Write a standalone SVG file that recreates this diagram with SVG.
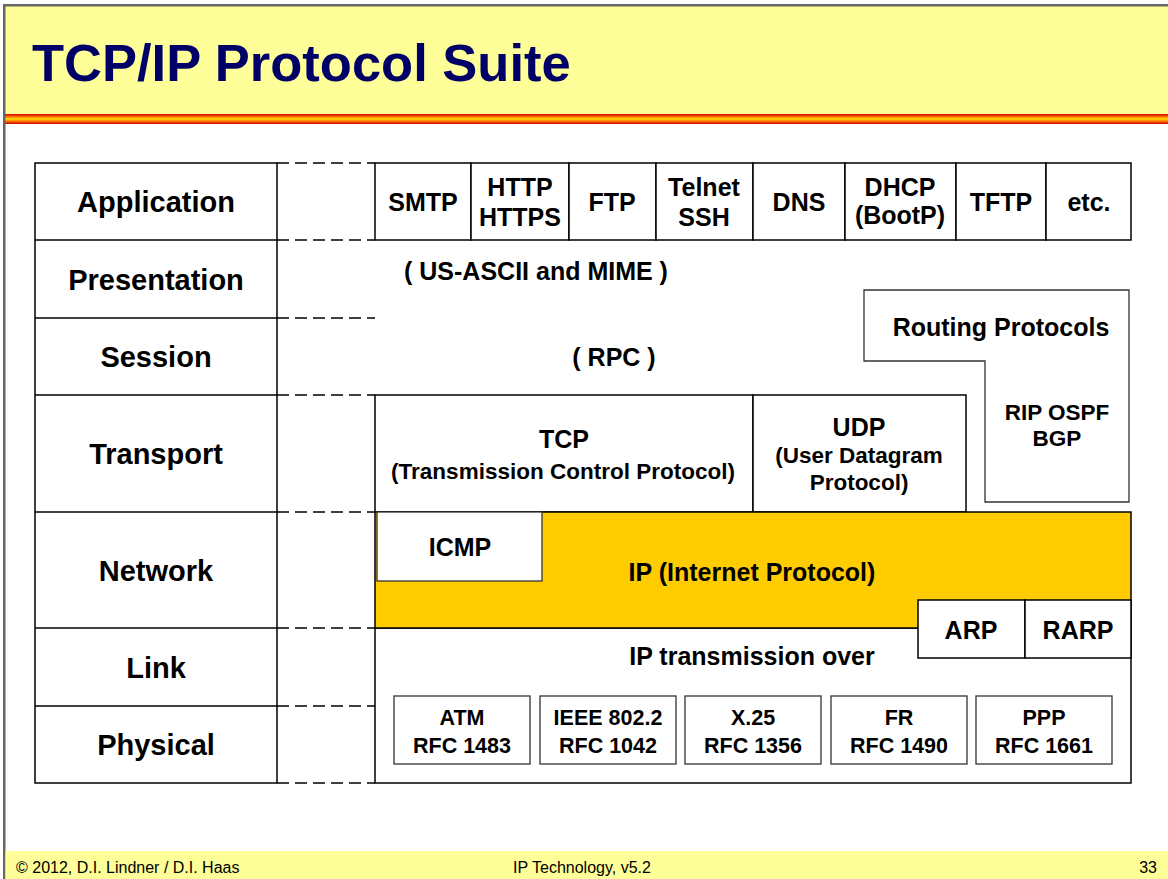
<svg xmlns="http://www.w3.org/2000/svg" width="1168" height="879" viewBox="0 0 1168 879">
<defs>
<linearGradient id="stripe" x1="0" y1="0" x2="0" y2="1">
<stop offset="0" stop-color="#CC0000"/>
<stop offset="0.25" stop-color="#FF6600"/>
<stop offset="0.5" stop-color="#FFDD00"/>
<stop offset="0.75" stop-color="#FF6600"/>
<stop offset="1" stop-color="#CC0000"/>
</linearGradient>
</defs>
<style>
text{font-family:"Liberation Sans",Arial,sans-serif;fill:#000;}
.lbl{font-size:29px;font-weight:bold;text-anchor:middle;}
.b25{font-size:25px;font-weight:bold;text-anchor:middle;}
.b22{font-size:22.5px;font-weight:bold;text-anchor:middle;}
.b21{font-size:21.5px;font-weight:bold;text-anchor:middle;}
.box{fill:#fff;stroke:#000;stroke-width:1.5;}
.gbox{fill:#fff;stroke:#333;stroke-width:1.3;}
.dash{stroke:#000;stroke-width:1.5;stroke-dasharray:12 6;fill:none;}
.line{stroke:#000;stroke-width:1.5;fill:none;}
.foot{font-size:16px;}
</style>
<rect x="0" y="0" width="1168" height="879" fill="#fff"/>
<g id="header">
<rect x="5" y="6" width="1163" height="108" fill="#FFFF99"/>
<rect x="5" y="114" width="1163" height="10" fill="url(#stripe)"/>
<rect x="3" y="4" width="1165" height="2.5" fill="#666"/>
<rect x="3" y="4" width="2.5" height="875" fill="#666"/>
<text x="32" y="81" font-size="52.5" font-weight="bold" style="fill:#000066">TCP/IP Protocol Suite</text>
</g>
<g id="footer">
<rect x="5.5" y="851" width="1162.5" height="28" fill="#FFFF99"/>
<text class="foot" x="16" y="873">© 2012, D.I. Lindner / D.I. Haas</text>
<text class="foot" x="513" y="873">IP Technology, v5.2</text>
<text class="foot" x="1157" y="873" text-anchor="end">33</text>
</g>
<g id="layer-table">
<rect class="box" x="35" y="163" width="242" height="620"/>
<line class="line" x1="35" y1="240" x2="277" y2="240"/>
<line class="line" x1="35" y1="318" x2="277" y2="318"/>
<line class="line" x1="35" y1="395" x2="277" y2="395"/>
<line class="line" x1="35" y1="512" x2="277" y2="512"/>
<line class="line" x1="35" y1="628" x2="277" y2="628"/>
<line class="line" x1="35" y1="706" x2="277" y2="706"/>
<text class="lbl" x="156" y="212">Application</text>
<text class="lbl" x="156" y="290">Presentation</text>
<text class="lbl" x="156" y="367">Session</text>
<text class="lbl" x="156" y="464">Transport</text>
<text class="lbl" x="156" y="581">Network</text>
<text class="lbl" x="156" y="678">Link</text>
<text class="lbl" x="156" y="755">Physical</text>
</g>
<g id="layer-dividers">
<line class="dash" x1="277" y1="163" x2="375" y2="163"/>
<line class="dash" x1="277" y1="240" x2="375" y2="240"/>
<line class="dash" x1="277" y1="318" x2="375" y2="318"/>
<line class="dash" x1="277" y1="395" x2="375" y2="395"/>
<line class="dash" x1="277" y1="512" x2="375" y2="512"/>
<line class="dash" x1="277" y1="628" x2="375" y2="628"/>
<line class="dash" x1="277" y1="706" x2="375" y2="706"/>
<line class="dash" x1="277" y1="783" x2="375" y2="783"/>
</g>
<g id="app-smtp"><rect class="box" x="375" y="163" width="96" height="77"/><text class="b25" x="423" y="211">SMTP</text></g>
<g id="app-http"><rect class="box" x="471" y="163" width="98" height="77"/><text class="b25" x="520" y="196">HTTP</text><text class="b25" x="520" y="226">HTTPS</text></g>
<g id="app-ftp"><rect class="box" x="569" y="163" width="87" height="77"/><text class="b25" x="612" y="211">FTP</text></g>
<g id="app-telnet"><rect class="box" x="656" y="163" width="97" height="77"/><text class="b25" x="704" y="196">Telnet</text><text class="b25" x="704" y="226">SSH</text></g>
<g id="app-dns"><rect class="box" x="753" y="163" width="92" height="77"/><text class="b25" x="799" y="211">DNS</text></g>
<g id="app-dhcp"><rect class="box" x="845" y="163" width="111" height="77"/><text class="b25" x="900" y="196">DHCP</text><text class="b25" x="900" y="224">(BootP)</text></g>
<g id="app-tftp"><rect class="box" x="956" y="163" width="90" height="77"/><text class="b25" x="1001" y="211">TFTP</text></g>
<g id="app-etc"><rect class="box" x="1046" y="163" width="85" height="77"/><text class="b25" x="1089" y="211">etc.</text></g>
<g id="presentation"><text class="b25" x="536" y="280">( US-ASCII and MIME )</text></g>
<g id="session"><text class="b25" x="614" y="366">( RPC )</text></g>
<g id="routing">
<path class="gbox" d="M864 290 H1129 V502 H985 V361 H864 Z"/>
<text class="b25" x="1001" y="336">Routing Protocols</text>
<text class="b22" x="1057" y="420">RIP OSPF</text>
<text class="b22" x="1057" y="446">BGP</text>
</g>
<g id="tcp">
<rect class="box" x="375" y="395" width="378" height="117"/>
<text class="b25" x="564" y="448">TCP</text>
<text class="b22" x="563" y="479">(Transmission Control Protocol)</text>
</g>
<g id="udp">
<rect class="box" x="753" y="395" width="213" height="117"/>
<text class="b25" x="859" y="436">UDP</text>
<text class="b22" x="859" y="463">(User Datagram</text>
<text class="b22" x="859" y="490">Protocol)</text>
</g>
<g id="link">
<rect class="box" x="375" y="628" width="756" height="155"/>
<text class="b25" x="752" y="665">IP transmission over</text>
</g>
<g id="ip">
<rect x="375" y="512" width="756" height="116" fill="#FFCC00" stroke="#000" stroke-width="1.5"/>
<text class="b25" x="752" y="581">IP (Internet Protocol)</text>
</g>
<g id="icmp"><rect class="gbox" x="377" y="512" width="165" height="69"/><text class="b25" x="460" y="556">ICMP</text></g>
<g id="arp"><rect class="box" x="918" y="600" width="107" height="58"/><text class="b25" x="971" y="639">ARP</text></g>
<g id="rarp"><rect class="box" x="1025" y="600" width="106" height="58"/><text class="b25" x="1078" y="639">RARP</text></g>
<g id="atm"><rect class="gbox" x="394" y="696" width="136" height="68"/><text class="b21" x="462" y="725">ATM</text><text class="b21" x="462" y="753">RFC 1483</text></g>
<g id="ieee"><rect class="gbox" x="540" y="696" width="136" height="68"/><text class="b21" x="608" y="725">IEEE 802.2</text><text class="b21" x="608" y="753">RFC 1042</text></g>
<g id="x25"><rect class="gbox" x="685" y="696" width="136" height="68"/><text class="b21" x="753" y="725">X.25</text><text class="b21" x="753" y="753">RFC 1356</text></g>
<g id="fr"><rect class="gbox" x="831" y="696" width="136" height="68"/><text class="b21" x="899" y="725">FR</text><text class="b21" x="899" y="753">RFC 1490</text></g>
<g id="ppp"><rect class="gbox" x="976" y="696" width="136" height="68"/><text class="b21" x="1044" y="725">PPP</text><text class="b21" x="1044" y="753">RFC 1661</text></g>
</svg>
